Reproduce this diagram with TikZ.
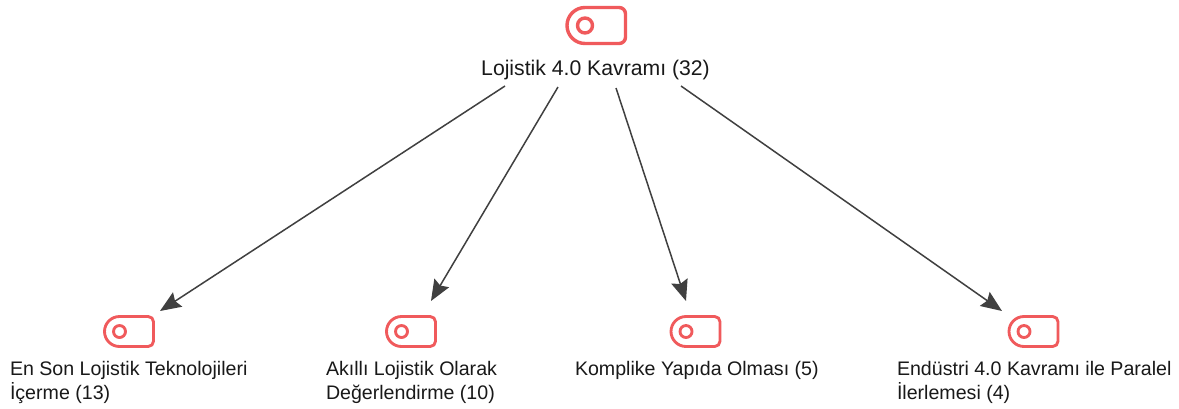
\documentclass[tikz,border=0pt]{standalone}
\usepackage{fontspec}
\setmainfont{Liberation Sans}
\usetikzlibrary{arrows.meta}
\definecolor{iconred}{HTML}{F05A5C}
\definecolor{linkgray}{HTML}{404040}
\tikzset{
  x=1pt,y=-1pt,
  lbl/.style={inner sep=0pt,outer sep=0pt,font=\fontsize{19.6}{24}\selectfont,text=black!90,align=left,anchor=base west},
  toplbl/.style={inner sep=0pt,outer sep=0pt,font=\fontsize{21.2}{24}\selectfont,text=black!90,anchor=base},
  link/.style={draw=linkgray,line width=1.5pt,-{Stealth[length=21pt,width=17pt,inset=3pt]}},
  pics/tagicon/.style n args={3}{code={
    % #1 half-height, #2 width, #3 dot radius
    \draw[iconred,line width=#1*0.19pt,line join=round]
      (0,-#1) -- (#2-#1*0.35,-#1)
      arc[start angle=-90,end angle=0,radius=#1*0.35]
      -- (#2,#1-#1*0.35)
      arc[start angle=0,end angle=90,radius=#1*0.35]
      -- (0,#1)
      arc[start angle=90,end angle=270,radius=#1]
      -- cycle;
    \draw[iconred,line width=#1*0.19pt] (0,0) circle[radius=#3];
  }}
}
\begin{document}
\begin{tikzpicture}
\useasboundingbox (0,0) rectangle (1179,408);
\fill[white] (0,0) rectangle (1179,408);
\pic at (585,25.5) {tagicon={18}{40.5}{7.5}};
\pic at (119.5,331.5) {tagicon={15}{34}{6}};
\pic at (401.5,331.5) {tagicon={15}{34}{6}};
\pic at (686,331.5) {tagicon={15}{34}{6}};
\pic at (1024,331.5) {tagicon={15}{34}{6}};
\node[toplbl] (top) at (595.5,75) {Lojistik 4.0 Kavramı (32)};
\node[lbl] (a) at (10,399) {En Son Lojistik Teknolojileri\\İçerme (13)};
\node[lbl] (b) at (326,399) {Akıllı Lojistik Olarak\\Değerlendirme (10)};
\node[lbl] (c) at (575,375) {Komplike Yapıda Olması (5)};
\node[lbl] (d) at (897,399) {Endüstri 4.0 Kavramı ile Paralel\\İlerlemesi (4)};
\coordinate (s1) at (505,86); \coordinate (e1) at (160,311);
\coordinate (s2) at (558,87); \coordinate (e2) at (431,301);
\coordinate (s3) at (616,88); \coordinate (e3) at (686,301);
\coordinate (s4) at (681,86); \coordinate (e4) at (1002,311);
\draw[link] (s1) -- (e1);
\draw[link] (s2) -- (e2);
\draw[link] (s3) -- (e3);
\draw[link] (s4) -- (e4);
\end{tikzpicture}
\end{document}
